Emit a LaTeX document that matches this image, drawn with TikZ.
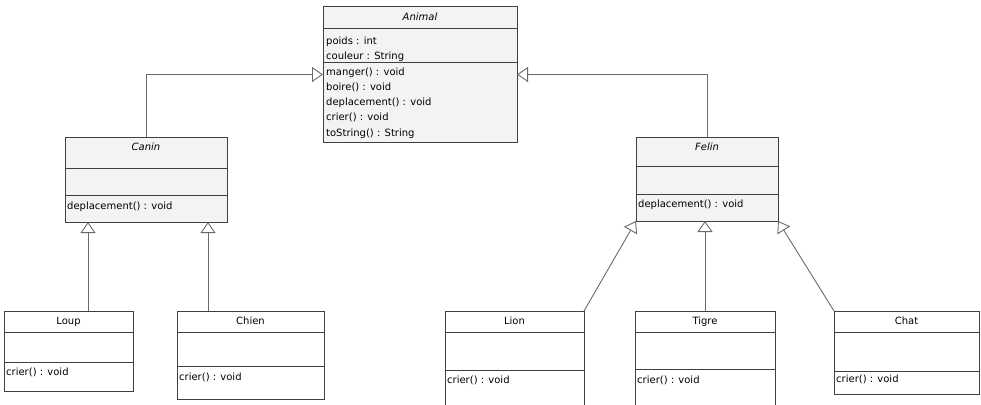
\documentclass[tikz,border=0pt]{standalone}
\usepackage{fontspec}
\setmainfont{DejaVu Sans}
\usetikzlibrary{arrows.meta}
\definecolor{boxline}{HTML}{404040}
\definecolor{boxfill}{HTML}{F3F3F3}
\definecolor{conn}{HTML}{6A6A6A}
\tikzset{
  cls/.style={draw=boxline, line width=1pt, anchor=north west, inner sep=0pt, outer sep=0pt},
  abscls/.style={cls, fill=boxfill},
  sepline/.style={draw=boxline, line width=1pt},
  txt/.style={inner sep=0pt, font=\fontsize{10}{11}\selectfont, text height=7pt, text depth=2pt, anchor=west},
  ttl/.style={txt, anchor=center},
  inh/.style={draw=conn, line width=0.9pt, -{Triangle[open, length=11pt, width=15pt, line width=0.9pt]}}
}
\begin{document}
\begin{tikzpicture}[x=1pt,y=-1pt]
\useasboundingbox (0,0) rectangle (981,404);
\clip (0,0) rectangle (981,404);
% Animal
\node[abscls, minimum width=194pt, minimum height=135pt] (animal) at (323,7) {};
\draw[sepline] (323,29) -- (517,29);
\draw[sepline] (323,62) -- (517,62);
\node[ttl, font=\fontsize{10}{11}\selectfont\itshape] (animalT) at (420,18) {Animal};
\node[txt] (animalA1) at (326,42) {poids : int};
\node[txt] (animalA2) at (326,57) {couleur : String};
\node[txt] (animalM1) at (326,73) {manger() : void};
\node[txt] (animalM2) at (326,88) {boire() : void};
\node[txt] (animalM3) at (326,103) {deplacement() : void};
\node[txt] (animalM4) at (326,118) {crier() : void};
\node[txt] (animalM5) at (326,134) {toString() : String};
% Canin
\node[abscls, minimum width=162pt, minimum height=85pt] (canin) at (65,137) {};
\draw[sepline] (65,168) -- (227,168);
\draw[sepline] (65,195) -- (227,195);
\node[ttl, font=\fontsize{10}{11}\selectfont\itshape] (caninT) at (146,148) {Canin};
\node[txt] (caninM) at (67,207) {deplacement() : void};
% Felin
\node[abscls, minimum width=142pt, minimum height=84pt] (felin) at (636,137) {};
\draw[sepline] (636,166) -- (778,166);
\draw[sepline] (636,194) -- (778,194);
\node[ttl, font=\fontsize{10}{11}\selectfont\itshape] (felinT) at (707,148) {Felin};
\node[txt] (felinM) at (638,205) {deplacement() : void};
% Loup
\node[cls, minimum width=129pt, minimum height=80pt] (loup) at (4,311) {};
\draw[sepline] (4,332) -- (133,332);
\draw[sepline] (4,362) -- (133,362);
\node[ttl] (loupT) at (68.5,322) {Loup};
\node[txt] (loupM) at (6,373) {crier() : void};
% Chien
\node[cls, minimum width=147pt, minimum height=88pt] (chien) at (177,311) {};
\draw[sepline] (177,332) -- (324,332);
\draw[sepline] (177,366) -- (324,366);
\node[ttl] (chienT) at (250.5,322) {Chien};
\node[txt] (chienM) at (179,378) {crier() : void};
% Lion
\node[cls, minimum width=139pt, minimum height=110pt] (lion) at (445,311) {};
\draw[sepline] (445,332) -- (584,332);
\draw[sepline] (445,370) -- (584,370);
\node[ttl] (lionT) at (514.5,322) {Lion};
\node[txt] (lionM) at (447,381) {crier() : void};
% Tigre
\node[cls, minimum width=140pt, minimum height=110pt] (tigre) at (635,311) {};
\draw[sepline] (635,332) -- (775,332);
\draw[sepline] (635,369) -- (775,369);
\node[ttl] (tigreT) at (705,322) {Tigre};
\node[txt] (tigreM) at (637,381) {crier() : void};
% Chat
\node[cls, minimum width=145pt, minimum height=83pt] (chat) at (834,311) {};
\draw[sepline] (834,332) -- (979,332);
\draw[sepline] (834,371) -- (979,371);
\node[ttl] (chatT) at (906.5,322) {Chat};
\node[txt] (chatM) at (836,380) {crier() : void};
% connectors
\coordinate (lx) at (88,0);
\coordinate (cx) at (208,0);
\draw[inh] (canin.north) |- (animal.west);
\draw[inh] (felin.north) |- (animal.east);
\draw[inh] (loup.north -| lx) -- (canin.south -| lx);
\draw[inh] (chien.north -| cx) -- (canin.south -| cx);
\draw[inh] (lion.north east) -- (felin.south west);
\draw[inh] (tigre.north) -- (felin.south -| tigre.north);
\draw[inh] (chat.north west) -- (felin.south east);
\end{tikzpicture}
\end{document}
